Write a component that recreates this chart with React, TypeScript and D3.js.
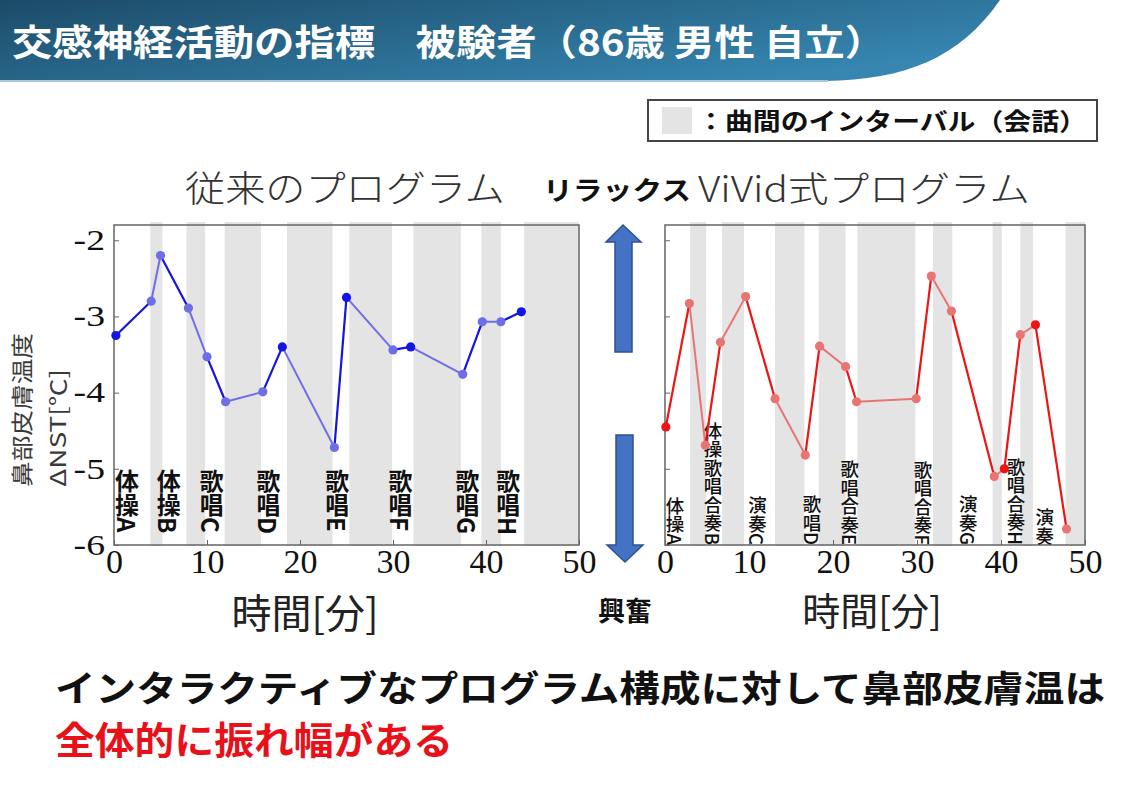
import React, { useEffect, useRef } from 'react'
import * as d3 from 'd3'

// 従来のプログラム (left panel)
const convTime = [0.2, 4.0, 5.0, 8.0, 10.0, 12.0, 16.0, 18.1, 23.7, 25.0, 30.0, 31.9, 37.5, 39.6, 41.6, 43.8]
const convNST = [-3.25, -2.8, -2.2, -2.89, -3.53, -4.12, -3.99, -3.4, -4.72, -2.75, -3.44, -3.4, -3.76, -3.07, -3.07, -2.94]
const convIntervals: [number, number][] = [[3.9, 5.2], [7.8, 9.8], [11.9, 15.8], [18.6, 23.5], [25.3, 29.9], [32.2, 37.3], [39.5, 41.6], [44.1, 50]]
const convActivities = ['体操A', '体操B', '歌唱C', '歌唱D', '歌唱E', '歌唱F', '歌唱G', '歌唱H']
const convActivityTime = [1.4, 5.9, 10.5, 16.6, 24.0, 30.8, 38.0, 42.4]

// リラックス ViVid式プログラム (right panel)
const vividTime = [0.1, 2.9, 4.8, 6.6, 9.6, 13.1, 16.7, 18.4, 21.5, 22.8, 29.9, 31.7, 34.1, 39.2, 40.4, 42.3, 44.1, 47.8]
const vividNST = [-4.45, -2.83, -4.69, -3.34, -2.74, -4.08, -4.82, -3.39, -3.66, -4.12, -4.08, -2.47, -2.93, -5.1, -5.0, -3.24, -3.11, -5.79]
const vividIntervals: [number, number][] = [[3.0, 4.9], [6.8, 9.4], [13.1, 16.6], [18.3, 21.5], [22.9, 29.8], [31.9, 34.2], [39.0, 40.1], [42.3, 43.8], [47.7, 50]]
const vividActivities = ['体操A', '体操歌唱合奏B', '演奏C', '歌唱D', '歌唱合奏E', '歌唱合奏F', '演奏G', '歌唱合奏H', '演奏']
const vividActivityTime = [1.2, 5.7, 11.0, 17.5, 22.0, 30.7, 36.1, 41.8, 45.2]

const xTicks = [0, 10, 20, 30, 40, 50]
const yTicks = [-2, -3, -4, -5, -6]

const JP = '"Noto Sans CJK JP", "Noto Sans", sans-serif'
const SERIF = '"Liberation Serif", "DejaVu Serif", serif'

const PLOT_TOP = 225
const PLOT_BOTTOM = 545
const y = d3.scaleLinear().domain([-6, -1.8]).range([PLOT_BOTTOM, PLOT_TOP])

interface PanelProps {
    time: number[]
    values: number[]
    intervals: [number, number][]
    activities: string[]
    activityTime: number[]
    left: number
    right: number
    dark: string
    light: string
    yLabels: boolean
    bold: boolean
}

const Panel: React.FC<PanelProps> = (p) => {
    const xAxisRef = useRef<SVGGElement | null>(null)
    const yAxisRef = useRef<SVGGElement | null>(null)
    const x = d3.scaleLinear().domain([0, 50]).range([p.left, p.right])
    const inBand = (t: number, tol = 0) => p.intervals.some(([a, b]) => t >= a - tol && t <= b + tol)

    useEffect(() => {
        d3.select(xAxisRef.current!)
            .call(d3.axisBottom(x).tickValues(xTicks).tickSize(-5).tickPadding(4).tickFormat(d => String(d)))
            .call(g => g.select('.domain').remove())
            .call(g => g.selectAll('.tick line').attr('stroke', '#666'))
            .call(g => g.selectAll('.tick text').attr('font-family', SERIF).attr('font-size', 34).attr('fill', '#111'))

        const scaleX = 1.3
        d3.select(yAxisRef.current!)
            .call(d3.axisLeft(y).tickValues(yTicks).tickSize(-5).tickPadding(9).tickFormat(d => (p.yLabels ? String(d) : '')))
            .call(g => g.select('.domain').remove())
            .call(g => g.selectAll('.tick line').attr('stroke', '#666'))
            .call(g => g.selectAll('.tick text')
                .attr('font-family', SERIF)
                .attr('font-size', 29)
                .attr('fill', '#111')
                .attr('x', -9 / scaleX)
                .attr('transform', `scale(${scaleX},1)`))
    }, [])

    const pts = p.time.map((t, i) => ({ t, v: p.values[i] }))

    return (
        <g>
            {p.intervals.map(([a, b], i) => (
                <rect key={i} x={x(a)} y={PLOT_TOP - 3} width={x(b) - x(a)} height={PLOT_BOTTOM - PLOT_TOP + 4} fill="#e4e4e4" />
            ))}
            <rect x={p.left} y={PLOT_TOP} width={p.right - p.left} height={PLOT_BOTTOM - PLOT_TOP}
                fill="none" stroke="#6e6e6e" strokeWidth={1.6} />
            {p.activities.map((s, i) => (
                <text key={s + i} x={x(p.activityTime[i])} y={p.bold ? 469 : PLOT_BOTTOM}
                    textAnchor={p.bold ? 'start' : 'end'}
                    style={{ writingMode: 'vertical-rl' }}
                    fontFamily={JP} fontSize={p.bold ? 24 : 18.5} fontWeight={p.bold ? 700 : 500} fill="#111">
                    {s}
                </text>
            ))}
            {pts.slice(1).map((d, i) => {
                const prev = pts[i]
                const light = inBand((prev.t + d.t) / 2)
                return (
                    <line key={i} x1={x(prev.t)} y1={y(prev.v)} x2={x(d.t)} y2={y(d.v)}
                        stroke={light ? p.light : p.dark} strokeWidth={light ? 2 : 2.2} />
                )
            })}
            {pts.map((d, i) => (
                <circle key={i} cx={x(d.t)} cy={y(d.v)} r={4.6} fill={inBand(d.t, 0.25) ? p.light : p.dark} />
            ))}
            <g ref={xAxisRef} transform={`translate(0,${PLOT_BOTTOM})`} />
            <g ref={yAxisRef} transform={`translate(${p.left},0)`} />
        </g>
    )
}

const App: React.FC = () => {
    return (
        <svg width={1131} height={800} viewBox="0 0 1131 800"
            style={{ position: 'absolute', left: 0, top: 0, background: '#fff' }}>
            <defs>
                <linearGradient id="hdr" x1="0" y1="0" x2="1" y2="0.6">
                    <stop offset="0" stopColor="#1c4b68" />
                    <stop offset="1" stopColor="#3686b1" />
                </linearGradient>
            </defs>
            <rect x={0} y={0} width={1131} height={800} fill="#fff" />

            {/* header band */}
            <path d="M0,0 H1000 C 960,58 905,80 825,81 H0 Z" fill="url(#hdr)" />
            <line x1={0} y1={81} x2={828} y2={81} stroke="#a9c8da" strokeWidth={2} />
            <text x={12} y={56} fontFamily={JP} fontWeight={700} fontSize={36} fill="#fff"
                textLength={873} lengthAdjust="spacingAndGlyphs">
                交感神経活動の指標　被験者（86歳 男性 自立）
            </text>

            {/* legend */}
            <rect x={648} y={100} width={449} height={41} fill="#fff" stroke="#444" strokeWidth={2} />
            <rect x={662} y={107} width={30} height={27} fill="#e4e4e4" />
            <text x={697} y={130} fontFamily={JP} fontWeight={700} fontSize={24} fill="#111"
                textLength={390} lengthAdjust="spacingAndGlyphs">
                ：曲間のインターバル（会話）
            </text>

            {/* panel titles */}
            <text x={185} y={202} fontFamily={JP} fontWeight={300} fontSize={36} fill="#333"
                textLength={320} lengthAdjust="spacingAndGlyphs">従来のプログラム</text>
            <text x={543} y={200} fontFamily={JP} fontWeight={700} fontSize={26} fill="#111"
                textLength={148} lengthAdjust="spacingAndGlyphs">リラックス</text>
            <text x={698} y={202} fontFamily={JP} fontWeight={300} fontSize={35} fill="#333"
                textLength={332} lengthAdjust="spacingAndGlyphs">ViVid式プログラム</text>

            {/* y axis title */}
            <g fontFamily={JP} fill="#3a3a3a" fontSize={22}>
                <text transform="translate(30,487) rotate(-90)" textLength={154} lengthAdjust="spacingAndGlyphs">鼻部皮膚温度</text>
                <text transform="translate(66,487) rotate(-90)" textLength={118} lengthAdjust="spacingAndGlyphs">ΔNST[℃]</text>
            </g>

            <Panel time={convTime} values={convNST} intervals={convIntervals}
                activities={convActivities} activityTime={convActivityTime}
                left={114} right={579} dark="#1414e6" light="#6e6ee6" yLabels bold />
            <Panel time={vividTime} values={vividNST} intervals={vividIntervals}
                activities={vividActivities} activityTime={vividActivityTime}
                left={665} right={1085} dark="#ee1414" light="#e87474" yLabels={false} bold={false} />

            {/* x axis titles */}
            <text x={305} y={628} textAnchor="middle" fontFamily={JP} fontWeight={400} fontSize={40} fill="#222">時間[分]</text>
            <text x={872} y={625} textAnchor="middle" fontFamily={JP} fontWeight={400} fontSize={38} fill="#222">時間[分]</text>

            {/* arrows */}
            <g fill="#4472c4" stroke="#2f528f" strokeWidth={1.5}>
                <polygon points="623,225 641,242 632,242 632,352 615,352 615,242 606,242" />
                <polygon points="625,562 643,545 633,545 633,435 616,435 616,545 607,545" />
            </g>
            <text x={625} y={621} textAnchor="middle" fontFamily={JP} fontWeight={700} fontSize={27} fill="#111">興奮</text>

            {/* conclusion */}
            <text x={55} y={702} fontFamily={JP} fontWeight={700} fontSize={36} fill="#111"
                textLength={1050} lengthAdjust="spacingAndGlyphs">
                インタラクティブなプログラム構成に対して鼻部皮膚温は
            </text>
            <text x={55} y={754} fontFamily={JP} fontWeight={700} fontSize={38} fill="#e8111a"
                textLength={398} lengthAdjust="spacingAndGlyphs">
                全体的に振れ幅がある
            </text>
        </svg>
    )
}

export default App
